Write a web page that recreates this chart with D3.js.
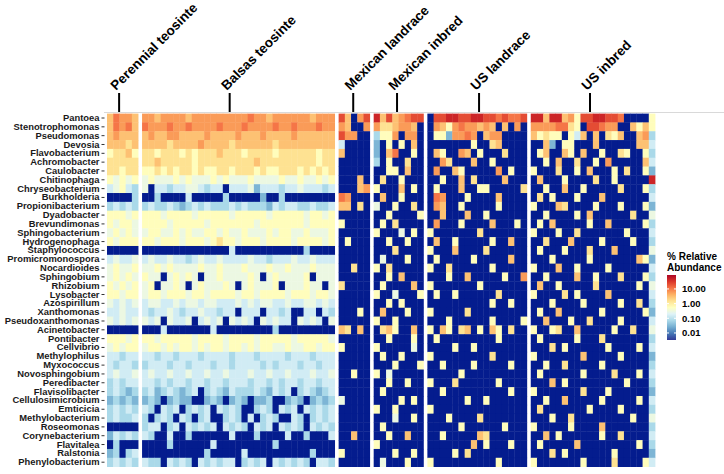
<!DOCTYPE html>
<html><head><meta charset="utf-8">
<script src="https://cdn.jsdelivr.net/npm/d3@7"></script>
<style>
body{margin:0;background:#fff}
svg{display:block}
text{font-family:"Liberation Sans",Arial,Helvetica,sans-serif}
</style>
</head><body>
<svg id="c" width="724" height="474"></svg>
<script>
// ---------------- DATA ----------------
const genera = ["Pantoea","Stenotrophomonas","Pseudomonas","Devosia","Flavobacterium","Achromobacter","Caulobacter","Chitinophaga","Chryseobacterium","Burkholderia","Propionibacterium","Dyadobacter","Brevundimonas","Sphingobacterium","Hydrogenophaga","Staphylococcus","Promicromonospora","Nocardioides","Sphingobium","Rhizobium","Lysobacter","Azospirillum","Xanthomonas","Pseudoxanthomonas","Acinetobacter","Pontibacter","Cellvibrio","Methylophilus","Myxococcus","Novosphingobium","Peredibacter","Flavisolibacter","Cellulosimicrobium","Emticicia","Methylobacterium","Roseomonas","Corynebacterium","Flavitalea","Ralstonia","Phenylobacterium"];
const groups = ["Perennial teosinte","Balsas teosinte","Mexican landrace","Mexican inbred","US landrace","US inbred"];
// abundance level codes ('.' = not detected) and the % relative abundance each code stands for
const levelCodes  = [".","a","b","c","d","e","f","g","h","i","j","k","l"];
const levelValues = [0, 0.01, 0.03, 0.07, 0.15, 0.3, 0.6, 1.5, 3, 6, 11, 22, 45];
const legendBreaks = [10, 1, 0.1, 0.01];
const legendLabels = ["10.00","1.00","0.10","0.01"];

// one string per genus (row), one character per sample (column)
const perennial = ["hjiih","hjijh","hihhh","hhhgh","fgghf","ggggg","ggfgg","fefef","defdc","....c","cdcdc","fffef","feffe","efefe","fefff",".....","dedde","efeef","efefe","fefef","ffeff","edede","ddedd","edede",".....","fffef","efeff","ddcdd","dcddc","dedde","cdcdd","cdcbc","bcbcb","cdcdc","cdccd",".....","bdcdc",".c...","bc.cd","cdcdc"];
const balsas = [
"iihiiiihiiiiiiiiijiihiiiiiihiii",
"jiiijiijiiiijiiijiiiijiijiiijii",
"hihhiihhhhihhhhihhhihhhhihhhhhh",
"hhhhghhhhihhhhghhhhhhghhhhhhhhh",
"ggfgggfgfggghgggfggggfggggggfgg",
"gghgggggfggggggggghgggggggggfgg",
"ffgfgfggfgffggfgggfgffgggfgfgfg",
"efeeefefeeefefeeefeeeefeefeefef",
"e.ddcddeedcdd.dddebdddcddedddcd",
"..c....d.....c.....b..c........",
"cdccdcbcdcdcccdcdcccbdcddccdccd",
"fffeffffefffffefffffefffffeffef",
"ffffefffffefffffffefffffffeffff",
"effeefefeeffefeefeeefeffeefeeef",
"ffefffefffefgffefffeffffeffffef",
"..............d...........c....",
"deddeddcdeddeddddeddcdddeddeddd",
"eefefeeeefeefeeefeeefeefeeefeee",
"fee.efefe.eefeeeefe.efeeeef.eee",
"ef.eefe.efeeefe.efeeef.eeefee.e",
"effefffeffeffffeffeffffefffeffe",
"deeddedeedeedddededeeddeddeeded",
"dcddedcddeddcdd.ddd.ddcd..dd.dc",
"ede.edde.dede.eded.ededd.eded.e",
"...d.......d.........c.........",
"ffefffffeffffeffffefffffefffffe",
"effefeffefeffeffefeffeefeeffeff",
"ddcddcdddcddddcdddcddddcdddcddd",
"cdddcddcdddcddcddddcdcdddcddcdd",
"deddeddeddeddedddeddeddedddedde",
"ddcdcddcddcddcdddcddcdcddcddcdd",
"cdbcdcbcd.cdcbdcccdcbdcd.cdcbcd",
"bcb.bcbb..bcb.bcb.bbc..bcb.bcbc",
"dc.dcd.cdcd.dcdc..cdc.dcd.dcdcd",
"c.cdc.dc.cd..cdc.d.cdc..dc.cdcd",
"cdd.cd.dcdcd.dcdc.dcd.dcdc.dcdc",
"dc..d..c......d...c....d..c...d",
"....c......d.........c.........",
"..........c.....d..........c...",
"dcc.dcdc.dcdcdd.cdcd.dcdcdc.ddc"];
const mexLandrace = ["kh.ik","ih..i","kii..","d....","h....",".....",".....","...h.","...hi","ji...","hh.g.",".....","f....",".....",".f...",".....",".....","..g..",".....","g....",".....",".....","...f.",".....","hg.h.",".....","f....",".....",".....","..f..",".....",".....","e....",".....",".....",".....","..h..",".....","f....","....."];
const mexInbred = ["lhkhijkk","igghiih.","cffi.ii.","b.f.f.h.","b.hj..f.","c.f..g..","..ff.h..",".g..f...","f...h.f.",".h..f...","e..f..g.","..f....f",".f.g....","f...e.f.","..f..f..","...g....",".e...f..","f.g.....","..f.h...",".f....h.","f..e...f","..f.f...",".h...f..","f..f....",".ghf..h.","..f...f.","f.....e.",".f..f...","...f...f","f.e.....","..f..f..",".f......","....f.f.","f..f....","...e..f.",".f......","..f..h..","f.......","...f..f.",".e...f.."];
const usLandrace = [".kkllkkllkkjkjjk",".ihfijiihih.h.i.",".ffbiiji.hii....",".......f..gh....",".hf..ih.f...g...","..ig...h..f.....",".i..hf.....i.f..","..f..h.g....h...",".f...h..ff.....g",".ji...f....h....",".ih..f.....f....","..h...h..f......",".i...f....h...f.","f.......g.......",".h..f.....f..h..","f...h....g......",".f.....f.....h..","f..g......f.....","...f..h.....f..i","f.......f.......",".f..f......g....","..........f..f..","f.....g.........","...f......f....f","f.hf.gh.f.hf.g..",".f.........f....","....f..f........","f.........g.....","..f....f.....f..",".....f..........","f...g......f....","..f..........f..","......f..f......","f...............","...f....g.......",".....f......f...","..f.....hg......",".......h.f...f..","....f.g.........","f..........f...."];
const usInbred = ["llhllhifkkllkkj....f","iiiijjgf.kkjii..hfhf","hfgff.fdh.h.gfh..hic","..hb.ff...h......hhd",".fh..hf.h..f..gf..fc","..f.h..g..f.i.....hd","f...g..f.h...f.g..fb",".h...f....g..f.....l","..f..h..f.....g...fc",".g.f...f...h.......d","f...hg....f...f...fb","..f....f.h......g..e",".f.h.....f..h.....fc","f...f..g.......f...d","..g...h....f....f..c",".f...f...g...h.....e","...f.....f.......hfb","f...h..f....f......d","..f....h..f...g...fc",".h..f.....g......f.e","f....g.f....h......d","...f....f.....f..g.c",".f..h......f......fb","..h...f..g....f....d","f..fg..h.....f..g..e",".f.....f...g.......c","...g.f......f....f.d","f.......h.....f....b","..f..g.....f.......c",".f......f....g...f.d","...h.f.........f...c","f.......g...f......b","..f..h.....f.....f.d",".g.......f....f....c","...f..g.........f..e","f.....f....h.......c","..h.f......f..g....d",".f.....h.........f.c","...g.f.......f.....b","f.......f....g....fd"];

// ---------------- LAYOUT / STYLE ----------------
const groupData = [perennial, balsas, mexLandrace, mexInbred, usLandrace, usInbred];
const tickFrac = [0.39, 0.455, 0.47, 0.47, 0.52, 0.477];
const X0 = 107, X1 = 655, Y0 = 113.6, Y1 = 466.6, GAP = 4;
const NAVY = "#041c8e";
const FONT = '"Liberation Sans", Arial, sans-serif';

const svg = d3.select("#c");
const color = d3.scaleLinear()
  .domain([-2.5,-2.05,-1.6,-1.15,-0.7,-0.25,0.2,0.65,1.1,1.55,2.0])
  .range(["#313695","#4575b4","#74add1","#abd9e9","#e0f3f8","#ffffbf","#fee090","#fdae61","#f46d43","#d73027","#a50026"])
  .clamp(true);
const fill = v => v > 0 ? color(Math.log10(v)) : NAVY;

const sizes = groupData.map(g => d3.max(g, s => s.length));
const total = d3.sum(sizes);
const cellW = (X1 - X0 - GAP * (groups.length - 1)) / total;
let cum = 0;
const xScales = sizes.map((n, i) => {
  const a = X0 + cum * cellW + i * GAP; cum += n;
  return d3.scaleBand().domain(d3.range(n)).range([a, a + n * cellW]);
});
const y = d3.scaleBand().domain(genera).range([Y0, Y1]);

// cells
const cells = [];
groupData.forEach((g, gi) => g.forEach((row, ri) => {
  for (let j = 0; j < row.length; j++) {
    const k = levelCodes.indexOf(row[j]);
    cells.push({g: gi, genus: genera[ri], col: j, v: levelValues[k < 0 ? 0 : k]});
  }
}));

// top grey line
svg.append("line").attr("x1", 104).attr("x2", 724).attr("y1", 112.5).attr("y2", 112.5)
  .attr("stroke", "#d9d9d9").attr("stroke-width", 1);

svg.append("g").selectAll("rect").data(cells).join("rect")
  .attr("x", d => xScales[d.g](d.col))
  .attr("y", d => y(d.genus))
  .attr("width", d => xScales[d.g].bandwidth() + 0.4)
  .attr("height", y.bandwidth() + 0.4)
  .attr("fill", d => fill(d.v));

// y axis
const ax = svg.append("g").attr("transform", "translate(104.5,0)")
  .call(d3.axisLeft(y).tickSize(3).tickPadding(2));
ax.select(".domain").remove();
ax.selectAll(".tick line").attr("stroke", "#333");
ax.selectAll("text").attr("font-family", FONT).attr("font-size", 9.4)
  .attr("font-weight", "bold").attr("fill", "#1a1a1a");

// group labels
groups.forEach((name, i) => {
  const r = xScales[i].range();
  const tx = r[0] + (r[1] - r[0]) * tickFrac[i];
  svg.append("line").attr("x1", tx).attr("x2", tx).attr("y1", 93).attr("y2", 112)
    .attr("stroke", "#000").attr("stroke-width", 2);
  svg.append("text").attr("transform", `translate(${tx - 3},91) rotate(-45)`)
    .attr("font-family", FONT).attr("font-size", 13.5).attr("font-weight", "bold")
    .attr("fill", "#000").text(name);
});

// legend
const lg = svg.append("g");
lg.append("text").attr("x", 667).attr("y", 260).attr("font-size", 10).attr("font-weight", "bold")
  .attr("font-family", FONT).text("% Relative");
lg.append("text").attr("x", 667).attr("y", 271).attr("font-size", 10).attr("font-weight", "bold")
  .attr("font-family", FONT).text("Abundance");
const ly = d3.scaleLinear().domain([-2.48, 1.95]).range([340, 275]);
const defs = svg.append("defs");
const grad = defs.append("linearGradient").attr("id", "lgrad")
  .attr("x1", 0).attr("x2", 0).attr("y1", 1).attr("y2", 0);
d3.range(0, 1.0001, 0.05).forEach(t => {
  const lv = -2.48 + t * (1.95 + 2.48);
  grad.append("stop").attr("offset", t).attr("stop-color", color(lv));
});
lg.append("rect").attr("x", 667).attr("y", 275).attr("width", 9).attr("height", 65).attr("fill", "url(#lgrad)");
legendBreaks.forEach((b, i) => {
  const yy = ly(Math.log10(b));
  lg.append("line").attr("x1", 667).attr("x2", 669).attr("y1", yy).attr("y2", yy).attr("stroke", "#fff");
  lg.append("line").attr("x1", 674).attr("x2", 676).attr("y1", yy).attr("y2", yy).attr("stroke", "#fff");
  lg.append("text").attr("x", 682).attr("y", yy + 3.5).attr("font-size", 9.5).attr("font-weight", "bold")
    .attr("font-family", FONT).text(legendLabels[i]);
});
</script>
</body></html>
